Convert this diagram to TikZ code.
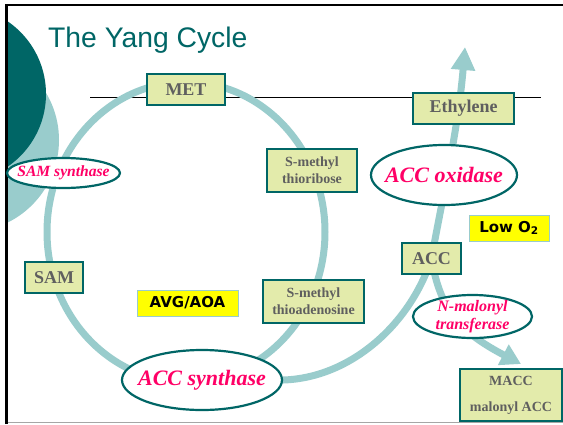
\documentclass[tikz,border=0pt]{standalone}
\usepackage{fontspec}
\setmainfont{Liberation Serif}
\newfontfamily\titlefont{Liberation Sans}
\newfontfamily\hlfont{DejaVu Sans}
\usetikzlibrary{shapes.geometric,arrows.meta}
\definecolor{tealdk}{RGB}{0,102,102}
\definecolor{teallt}{RGB}{153,204,204}
\definecolor{boxfill}{RGB}{227,235,171}
\definecolor{boxtext}{RGB}{95,95,95}
\definecolor{enzred}{RGB}{255,0,102}
\definecolor{hlyellow}{RGB}{255,255,0}
\pgfdeclarelayer{bglayer}
\pgfdeclarelayer{flowlayer}
\pgfsetlayers{bglayer,flowlayer,main}
\tikzset{
  compbox/.style={draw=tealdk, fill=boxfill, line width=2.2pt, inner sep=0pt, text=boxtext, align=center},
  enzyme/.style={ellipse, draw=tealdk, fill=white, line width=2.2pt, inner sep=0pt},
  enztext/.style={inner sep=0pt, text=enzred, align=center},
  hlbox/.style={draw=teallt, fill=hlyellow, line width=0.9pt, inner sep=0pt, text=black},
  flow/.style={draw=teallt, line width=7pt},
  bigfont/.style={font=\bfseries\fontsize{18pt}{20pt}\selectfont},
  smallfont/.style={font=\bfseries\fontsize{14pt}{17pt}\selectfont},
}
\begin{document}
\begin{tikzpicture}[x=1pt,y=-1pt]
\useasboundingbox (0,0) rectangle (563,424);
\begin{pgfonlayer}{bglayer}
\fill[white] (0,0) rectangle (563,424);
\begin{scope}
  \clip (7,5) rectangle (563,422);
  \fill[teallt] (-33,140) circle (92pt);
  \fill[tealdk] (-42,94) circle (88pt);
\end{scope}
\draw[gray!70, line width=0.8pt] (7,422) -- (563,422);
\draw[black, line width=2.5pt] (6.3,424) -- (6.3,5) -- (563,5);
\node[anchor=base west, inner sep=0pt, text=tealdk, font=\titlefont\fontsize{28.3pt}{30pt}\selectfont] (title) at (48,47) {The Yang Cycle};
\coordinate (hlL) at (90,97);
\coordinate (hlR) at (541,97);
\draw[black, line width=0.8pt] (hlL) -- (hlR);
\end{pgfonlayer}
% compound boxes
\node[compbox, bigfont, minimum width=78pt, minimum height=31pt] (met) at (186,89.5) {MET};
\node[compbox, smallfont, minimum width=90pt, minimum height=43pt] (mtr) at (312,170.5) {S-methyl\\thioribose};
\node[compbox, smallfont, minimum width=101pt, minimum height=43pt] (mta) at (313.5,301.5) {S-methyl\\thioadenosine};
\node[compbox, bigfont, minimum width=58pt, minimum height=31pt] (sam) at (54,277.5) {SAM};
\node[compbox, bigfont, minimum width=101pt, minimum height=31pt] (eth) at (463.5,108.5) {Ethylene};
\node[compbox, bigfont, minimum width=59pt, minimum height=31pt] (acc) at (431.5,258.5) {ACC};
\node[compbox, smallfont, minimum width=102pt, minimum height=52pt] (macc) at (511,395) {MACC\\[9pt]malonyl ACC};
% highlight boxes
\node[hlbox, minimum width=101pt, minimum height=26pt, font=\hlfont\bfseries\fontsize{15pt}{17pt}\selectfont] (avg) at (187.5,303) {AVG/AOA};
\node[hlbox, minimum width=80pt, minimum height=26pt, font=\hlfont\bfseries\fontsize{15pt}{17pt}\selectfont] (low) at (509,228) {Low O\textsubscript{2}};
% enzymes
\node[enzyme, minimum width=113pt, minimum height=30pt] (sams) at (63.5,173) {};
\node[enztext, font=\bfseries\itshape\fontsize{15.6pt}{18pt}\selectfont] (samst) at (sams) {SAM synthase};
\node[enzyme, minimum width=160pt, minimum height=60pt] (accs) at (202,380) {};
\node[enztext, font=\bfseries\itshape\fontsize{22pt}{24pt}\selectfont] (accst) at (accs) {ACC synthase};
\node[enzyme, minimum width=146pt, minimum height=60pt] (acco) at (444,175) {};
\node[enztext, font=\bfseries\itshape\fontsize{22pt}{24pt}\selectfont] (accot) at (acco) {ACC oxidase};
\node[enzyme, minimum width=119pt, minimum height=43pt] (nmt) at (472.5,316.5) {};
\node[enztext, font=\bfseries\itshape\fontsize{16pt}{18pt}\selectfont] (nmtt) at (nmt) {N-malonyl\\transferase};
% flows
\coordinate (cyc) at (186,232);
\coordinate (ethtip) at (465,47);
\coordinate (macctip) at (521,364);
\begin{pgfonlayer}{flowlayer}
\draw[flow] (cyc) ellipse [x radius=139pt, y radius=150pt];
\draw[flow, -{Triangle[length=23pt,width=23pt]}] (accs.east) .. controls (350,378) and (410,325) .. (acc.center) .. controls (442,200) and (458,130) .. (ethtip);
\draw[flow, -{Triangle[length=20pt,width=22pt]}] (acc.center) .. controls (440,310) and (460,332) .. (macctip);
\end{pgfonlayer}
\end{tikzpicture}
\end{document}
